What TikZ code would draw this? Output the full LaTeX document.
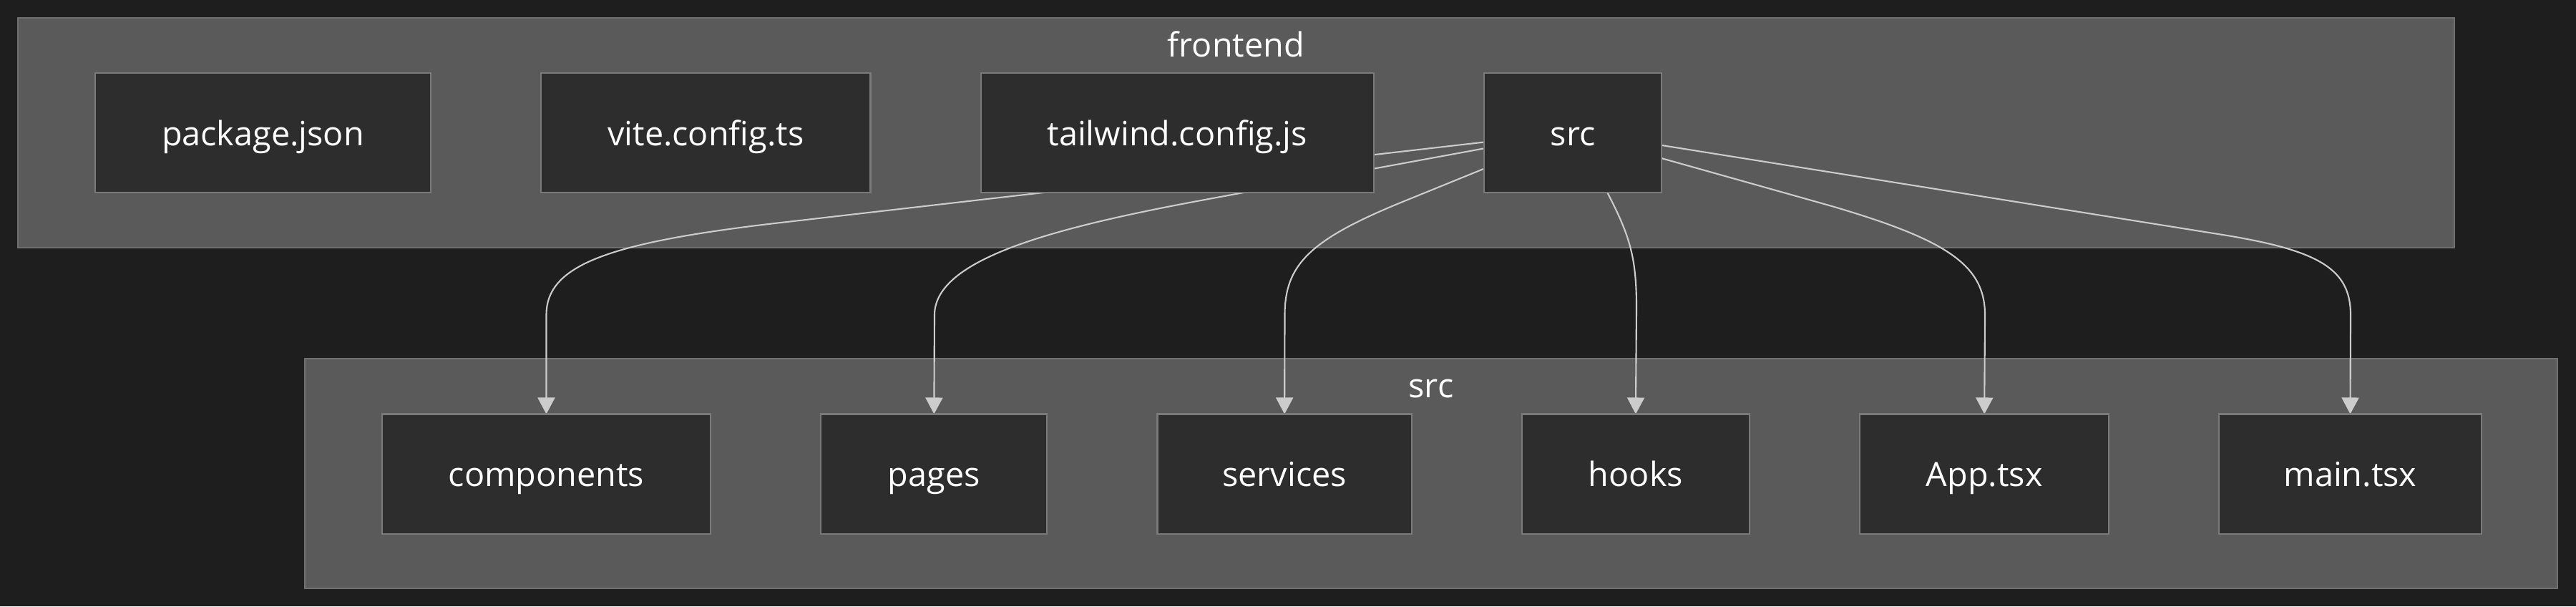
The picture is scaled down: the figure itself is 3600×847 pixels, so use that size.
\documentclass[tikz,border=0pt]{standalone}
\usepackage{fontspec}
\setmainfont{Open Sans}
\usepackage{tikz}
\usetikzlibrary{positioning,arrows.meta,backgrounds}
\definecolor{canvas}{HTML}{1E1E1E}
\definecolor{clusterfill}{HTML}{5A5A5A}
\definecolor{clusterline}{HTML}{707070}
\definecolor{nodefill}{HTML}{2D2D2D}
\definecolor{nodeline}{HTML}{7A7A7A}
\definecolor{edgecol}{HTML}{CCCCCC}
\pgfdeclarelayer{edgelayer}
\pgfsetlayers{background,edgelayer,main}
\tikzstyle{arrow} = [draw=edgecol, line width=0.6pt, -{Triangle[length=0.23cm, width=0.24cm]}]
\tikzstyle{file} = [draw=nodeline, fill=nodefill, line width=0.6pt, text=white,
  font={\fontsize{13.3pt}{16pt}\selectfont}, minimum height=1.67cm,
  outer sep=0pt, text height=12pt, text depth=2pt]
\tikzstyle{cluster} = [draw=clusterline, fill=clusterfill, line width=0.6pt]
\tikzstyle{clusterLabel} = [anchor=base, text=white, inner sep=0pt,
  font={\fontsize{13.3pt}{16pt}\selectfont}]

\begin{document}
\begin{tikzpicture}[
      x=0.01cm, y=-0.01cm,
      node distance = 1.54cm
    ]
      \useasboundingbox (0,0) rectangle (3600,847);

      % frontend row
      \node[file, minimum width=4.69cm] (pkgJson) at (367.5,185.5) {package.json};
      \node[file, minimum width=4.60cm] (viteCfg) [right=of pkgJson] {vite.config.ts};
      \node[file, minimum width=5.49cm] (twCfg)   [right=of viteCfg] {tailwind.config.js};
      \node[file, minimum width=2.48cm] (srcDir)  [right=of twCfg]   {src};

      % src row
      \node[file, minimum width=4.59cm] (components) at (763.5,662) {components};
      \node[file, minimum width=3.16cm] (pages)    [right=of components] {pages};
      \node[file, minimum width=3.55cm] (services) [right=of pages]      {services};
      \node[file, minimum width=3.18cm] (hooks)    [right=of services]   {hooks};
      \node[file, minimum width=3.48cm] (appTsx)   [right=of hooks]      {App.tsx};
      \node[file, minimum width=3.66cm] (mainTsx)  [right=of appTsx]     {main.tsx};

      \begin{pgfonlayer}{background}
        \fill[canvas] (0,0) rectangle (3600,847);
        \draw[cluster] (25,25) rectangle (3430,346);
        \draw[cluster] (426,501) rectangle (3574,822);
      \end{pgfonlayer}
      \node[clusterLabel] (frontendLbl) at (1727.5,79) {frontend};
      \node[clusterLabel] (srcLbl)      at (2000,555)  {src};

      \begin{pgfonlayer}{edgelayer}
        \draw[arrow] (srcDir.186) -- (1100,310)
          .. controls (850,338) and (763.5,370) .. (763.5,440) -- (components.north);
        \draw[arrow] (srcDir.190) -- (1700,276)
          .. controls (1480,316) and (1306,360) .. (1306,440) -- (pages.north);
        \draw[arrow] (srcDir.202) -- (1960,282)
          .. controls (1830,335) and (1795.5,370) .. (1795.5,440) -- (services.north);
        \draw[arrow] (srcDir.300)
          .. controls (2278,330) and (2287,360) .. (2287,430) -- (hooks.north);
        \draw[arrow] (srcDir.344) -- (2560,288)
          .. controls (2720,335) and (2774,370) .. (2774,440) -- (appTsx.north);
        \draw[arrow] (srcDir.352) -- (3100,327)
          .. controls (3240,349) and (3285,375) .. (3285,440) -- (mainTsx.north);
      \end{pgfonlayer}
    \end{tikzpicture}
\end{document}
